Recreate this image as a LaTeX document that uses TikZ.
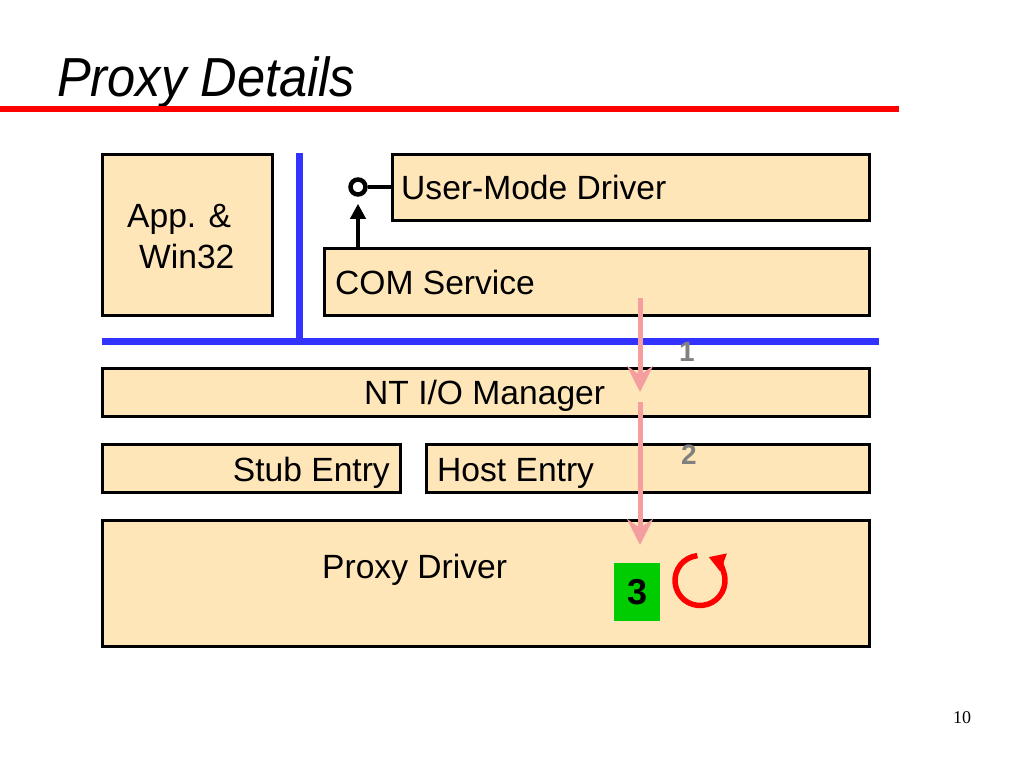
\documentclass[tikz,border=0pt]{standalone}
\usepackage{fontspec}
\setmainfont{Liberation Sans}
\newfontfamily\serifpn{Liberation Serif}
\usetikzlibrary{arrows.meta}
\definecolor{boxfill}{RGB}{255,230,185}
\definecolor{busblue}{RGB}{51,51,255}
\definecolor{pinkarrow}{RGB}{245,158,160}
\definecolor{titlered}{RGB}{255,0,0}
\definecolor{stepgreen}{RGB}{0,204,0}
\definecolor{numgray}{RGB}{128,128,128}
\begin{document}
\begin{tikzpicture}[x=1pt,y=-1pt,
  layerbox/.style={draw=black, line width=3.3pt, fill=boxfill, rectangle, inner sep=0pt, outer sep=0pt, anchor=north west},
  boxtext/.style={inner sep=0pt, font=\fontsize{33.6}{40}\selectfont},
  bus/.style={draw=busblue, line width=7pt},
  flow/.style={draw=pinkarrow, line width=5pt, -{Stealth[length=26pt, width=26pt, inset=9pt]}},
  stepnum/.style={inner sep=0pt, text=numgray, font=\fontsize{28}{30}\selectfont\bfseries}
]
\useasboundingbox[fill=white] (0,0) rectangle (1024,768);

% title
\node[anchor=base west, inner sep=0pt] (title) at (57,96)
  {\fontsize{55}{60}\selectfont\itshape\scalebox{0.92}[1]{Proxy Details}};
\coordinate (rl) at (0,108.5);
\coordinate (rr) at (899,108.5);
\draw[titlered, line width=6pt] (rl) -- (rr);

% boxes
\node[layerbox, minimum width=170pt, minimum height=161pt] (app) at (102.5,154.5) {};
\node[layerbox, minimum width=477pt, minimum height=66pt] (umd) at (392.5,154.5) {};
\node[layerbox, minimum width=545pt, minimum height=67pt] (com) at (324.5,248.5) {};
\node[layerbox, minimum width=767pt, minimum height=48pt] (nt) at (102.5,368.5) {};
\node[layerbox, minimum width=298pt, minimum height=48pt] (stub) at (102.5,444.5) {};
\node[layerbox, minimum width=443pt, minimum height=48pt] (host) at (426.5,444.5) {};
\node[layerbox, minimum width=767pt, minimum height=126pt] (proxy) at (102.5,520.5) {};

% box texts
\node[boxtext, anchor=base west] (appt1) at (127,227) {App. \&};
\node[boxtext, anchor=base west] (appt2) at (139,268) {Win32};
\node[boxtext, anchor=base west] (umdt) at (401,199.5) {User-Mode Driver};
\node[boxtext, anchor=base west] (comt) at (335,294) {COM Service};
\node[boxtext, anchor=base west] (ntt) at (364,404) {NT I/O Manager};
\node[boxtext, anchor=base east] (stubt) at (390,481) {Stub Entry};
\node[boxtext, anchor=base west] (hostt) at (437,481) {Host Entry};
\node[boxtext, anchor=base west] (proxyt) at (322,578) {Proxy Driver};

% bus lines
\coordinate (bv1) at (299,153);
\coordinate (bv2) at (299,341);
\coordinate (bh1) at (102,341);
\coordinate (bh2) at (879,341);
\draw[bus] (bv1) -- (bv2);
\draw[bus] (bh1) -- (bh2);

% plug connector
\node[circle, draw=black, line width=4.5pt, fill=white, minimum size=15pt, inner sep=0pt] (jack) at (358,187) {};
\draw[black, line width=4pt] (jack.east) -- (umd.west |- jack.east);
\draw[black, line width=4.5pt, -{Triangle[length=15pt, width=15pt]}, shorten >=7pt] (com.north -| jack) -- (jack.south);

% flow arrows
\coordinate (f1s) at (640,298);
\coordinate (f1e) at (640,392);
\coordinate (f2s) at (640,402);
\coordinate (f2e) at (640,545);
\draw[flow] (f1s) -- (f1e);
\draw[flow] (f2s) -- (f2e);
\node[stepnum] (n1) at (687,352) {1};
\node[stepnum] (n2) at (689,455) {2};

% step 3
\node[fill=stepgreen, minimum width=46pt, minimum height=58pt, inner sep=0pt,
  font=\fontsize{36}{38}\selectfont\bfseries] (s3) at (637,592) {3};
\coordinate (loopc) at (700,580.5);
\draw[red, line width=5.5pt, -{Triangle[length=16pt, width=18pt]}]
  ([shift={(96:25pt)}]loopc) arc[start angle=96, end angle=430, radius=25pt];

% page number
\node[anchor=base, inner sep=0pt, font=\serifpn\fontsize{18}{20}\selectfont] (pg) at (962,723) {10};
\end{tikzpicture}
\end{document}
